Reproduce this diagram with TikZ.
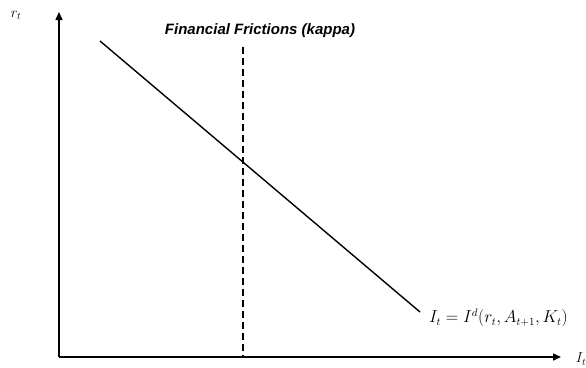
\documentclass[tikz,border=0pt]{standalone}
\usepackage{fontspec}
\newfontfamily\arialfont{Liberation Sans}
\usetikzlibrary{arrows.meta}
\begin{document}
\begin{tikzpicture}[x=1pt,y=-1pt,
  axis/.style={line width=1.5pt,-{Triangle[length=8pt,width=7pt]}},
  curve/.style={line width=1.4pt},
  dashline/.style={line width=1.4pt,dash pattern=on 7pt off 4pt},
  lbl/.style={inner sep=0pt,font=\fontsize{14}{16}\selectfont}]
\useasboundingbox (0,0) rectangle (586,367);
\coordinate (O) at (59,357);
\coordinate (ytop) at (59,12);
\coordinate (xend) at (561,357);
\draw[axis] (O) -- (ytop);
\draw[axis] (O) -- (xend);
\coordinate (d1) at (243,47);
\coordinate (d2) at (243,357);
\draw[dashline] (d1) -- (d2);
\coordinate (c1) at (100,41);
\coordinate (c2) at (420,312);
\draw[curve] (c1) -- (c2);
\node[inner sep=0pt,font=\arialfont\bfseries\itshape\fontsize{15}{17}\selectfont] (title) at (260,31) {Financial Frictions (kappa)};
\node[lbl] (rt) at (16,15) {$r_t$};
\node[lbl] (It) at (581,359) {$I_t$};
\node[lbl,anchor=west,font=\fontsize{16}{18}\selectfont] (eq) at (429,318) {$I_t = I^d(r_t, A_{t+1}, K_t)$};
\end{tikzpicture}
\end{document}
